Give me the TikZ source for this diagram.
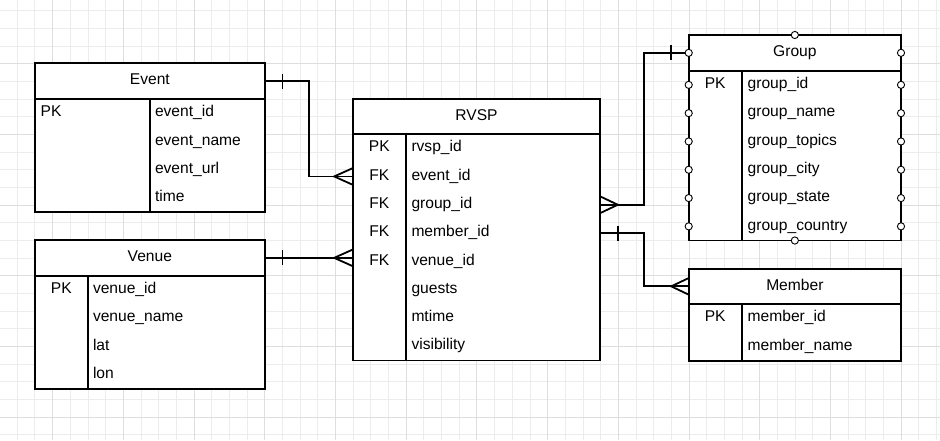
\documentclass[tikz,border=0pt]{standalone}
\usepackage{fontspec}
\setmainfont{Liberation Sans}
\definecolor{gridminor}{RGB}{236,236,236}
\definecolor{gridmajor}{RGB}{222,222,222}
\definecolor{ink}{RGB}{0,0,0}
\begin{document}
\begin{tikzpicture}[x=1pt,y=-1pt,line join=miter,
  tbl/.style={draw=ink,line width=1.8pt,fill=white,inner sep=0pt,outer sep=0pt,rectangle,anchor=north west},
  ln/.style={draw=ink,line width=1.8pt},
  conn/.style={draw=ink,line width=1.8pt},
  txt/.style={inner sep=0pt,outer sep=0pt,anchor=base west,yshift=1.4pt,text=ink,font=\fontsize{15.6}{18}\selectfont},
  ctxt/.style={inner sep=0pt,outer sep=0pt,anchor=base,yshift=1.4pt,text=ink,font=\fontsize{15.6}{18}\selectfont},
  cpt/.style={draw=ink,fill=white,line width=0.9pt}]
\useasboundingbox (0,0) rectangle (940,440);
\fill[white] (0,0) rectangle (940,440);
% grid
\foreach \i in {0,...,53} {\draw[gridminor,line width=1pt] ({\i*17.68-0.4},0) -- ({\i*17.68-0.4},440);}
\foreach \j in {0,...,24} {\draw[gridminor,line width=1pt] (0,{10.66+\j*17.68}) -- (940,{10.66+\j*17.68});}
\foreach \i in {3,7,...,51} {\draw[gridmajor,line width=1pt] ({\i*17.68-0.4},0) -- ({\i*17.68-0.4},440);}
\foreach \j in {3,7,...,23} {\draw[gridmajor,line width=1pt] (0,{10.66+\j*17.68}) -- (940,{10.66+\j*17.68});}

% ---------- Event ----------
\node[tbl,minimum width=230.3pt,minimum height=35.7pt] (eventH) at (34.7,63.3) {};
\node[tbl,minimum width=230.3pt,minimum height=113.2pt] (eventB) at (34.7,99) {};
\draw[ln] (149.7,99) -- (149.7,212.2);
\node[ctxt] (eventT) at (149.85,86.1) {Event};
\node[txt] (eventPK) at (40.7,118.2) {PK};
\node[txt] (eventF1) at (155,118.2) {event\_id};
\node[txt] (eventF2) at (155,146.5) {event\_name};
\node[txt] (eventF3) at (155,174.8) {event\_url};
\node[txt] (eventF4) at (155,203.1) {time};

% ---------- Venue ----------
\node[tbl,minimum width=230.3pt,minimum height=35.7pt] (venueH) at (34.7,240) {};
\node[tbl,minimum width=230.3pt,minimum height=113.2pt] (venueB) at (34.7,275.7) {};
\draw[ln] (88,275.7) -- (88,388.9);
\node[ctxt] (venueT) at (149.85,262.8) {Venue};
\node[ctxt] (venuePK) at (61.3,294.9) {PK};
\node[txt] (venueF1) at (93,294.9) {venue\_id};
\node[txt] (venueF2) at (93,323.2) {venue\_name};
\node[txt] (venueF3) at (93,351.5) {lat};
\node[txt] (venueF4) at (93,379.8) {lon};

% ---------- RVSP ----------
\node[tbl,minimum width=247.6pt,minimum height=35pt] (rvspH) at (352.7,99) {};
\node[tbl,minimum width=247.6pt,minimum height=226.4pt] (rvspB) at (352.7,134) {};
\draw[ln] (406,134) -- (406,360.4);
\node[ctxt] (rvspT) at (476.5,121.5) {RVSP};
\node[ctxt] (rvK1) at (379.3,153.2) {PK};
\node[ctxt] (rvK2) at (379.3,181.5) {FK};
\node[ctxt] (rvK3) at (379.3,209.8) {FK};
\node[ctxt] (rvK4) at (379.3,238.1) {FK};
\node[ctxt] (rvK5) at (379.3,266.4) {FK};
\node[txt] (rvF1) at (411.5,153.2) {rvsp\_id};
\node[txt] (rvF2) at (411.5,181.5) {event\_id};
\node[txt] (rvF3) at (411.5,209.8) {group\_id};
\node[txt] (rvF4) at (411.5,238.1) {member\_id};
\node[txt] (rvF5) at (411.5,266.4) {venue\_id};
\node[txt] (rvF6) at (411.5,294.7) {guests};
\node[txt] (rvF7) at (411.5,323.0) {mtime};
\node[txt] (rvF8) at (411.5,351.3) {visibility};
\coordinate (rvEvent) at (352.7,176.45);
\coordinate (rvGroup) at (600.3,204.75);
\coordinate (rvMember) at (600.3,233.05);

% ---------- Group ----------
\node[tbl,minimum width=212.3pt,minimum height=35.7pt] (groupH) at (688.7,35) {};
\node[tbl,minimum width=212.3pt,minimum height=169.8pt] (groupB) at (688.7,70.7) {};
\draw[ln] (741.7,70.7) -- (741.7,240.5);
\node[ctxt] (groupT) at (794.85,57.9) {Group};
\node[ctxt] (groupPK) at (715.2,89.9) {PK};
\node[txt] (groupF1) at (747.7,89.9) {group\_id};
\node[txt] (groupF2) at (747.7,118.2) {group\_name};
\node[txt] (groupF3) at (747.7,146.5) {group\_topics};
\node[txt] (groupF4) at (747.7,174.8) {group\_city};
\node[txt] (groupF5) at (747.7,203.1) {group\_state};
\node[txt] (groupF6) at (747.7,231.4) {group\_country};

% ---------- Member ----------
\node[tbl,minimum width=212.3pt,minimum height=35.3pt] (memberH) at (688.7,268.7) {};
\node[tbl,minimum width=212.3pt,minimum height=56.6pt] (memberB) at (688.7,304) {};
\draw[ln] (741.7,304) -- (741.7,360.6);
\node[ctxt] (memberT) at (794.85,291.4) {Member};
\node[ctxt] (memberPK) at (715.2,323.2) {PK};
\node[txt] (memberF1) at (747.7,323.2) {member\_id};
\node[txt] (memberF2) at (747.7,351.5) {member\_name};

% ---------- connectors ----------
% Event -> RVSP
\draw[conn] (eventH.east) -- ++(43.7,0) |- (rvEvent);
\draw[conn] ([xshift=17.5pt,yshift=7.5pt]eventH.east) -- ([xshift=17.5pt,yshift=-7.5pt]eventH.east);
\draw[conn] ([yshift=8.3pt]rvEvent) -- ([xshift=-18.5pt]rvEvent) -- ([yshift=-8.3pt]rvEvent);
% Venue -> RVSP
\coordinate (rvVenue) at (venueH.east -| rvspB.west);
\draw[conn] (venueH.east) -- (rvVenue);
\draw[conn] ([xshift=17.5pt,yshift=7.5pt]venueH.east) -- ([xshift=17.5pt,yshift=-7.5pt]venueH.east);
\draw[conn] ([yshift=8.3pt]rvVenue) -- ([xshift=-18.5pt]rvVenue) -- ([yshift=-8.3pt]rvVenue);
% RVSP -> Group
\draw[conn] (rvGroup) -- ++(44,0) |- (groupH.west);
\draw[conn] ([yshift=8.3pt]rvGroup) -- ([xshift=17.5pt]rvGroup) -- ([yshift=-8.3pt]rvGroup);
\draw[conn] ([xshift=-17.5pt,yshift=7.5pt]groupH.west) -- ([xshift=-17.5pt,yshift=-7.5pt]groupH.west);
% RVSP -> Member
\draw[conn] (rvMember) -- ++(44,0) |- (memberH.west);
\draw[conn] ([xshift=17.5pt,yshift=7.5pt]rvMember) -- ([xshift=17.5pt,yshift=-7.5pt]rvMember);
\draw[conn] ([yshift=8.3pt]memberH.west) -- ([xshift=-17.5pt]memberH.west) -- ([yshift=-8.3pt]memberH.west);

% ---------- Group connection points ----------
\foreach \yy in {52.85,84.85,113.15,141.45,169.75,198.05,226.35} {
  \draw[cpt] (688.7,\yy) circle (3.6pt);
  \draw[cpt] (901,\yy) circle (3.6pt);
}
\draw[cpt] (794.85,35) circle (3.6pt);
\draw[cpt] (794.85,240.5) circle (3.6pt);
\end{tikzpicture}
\end{document}
